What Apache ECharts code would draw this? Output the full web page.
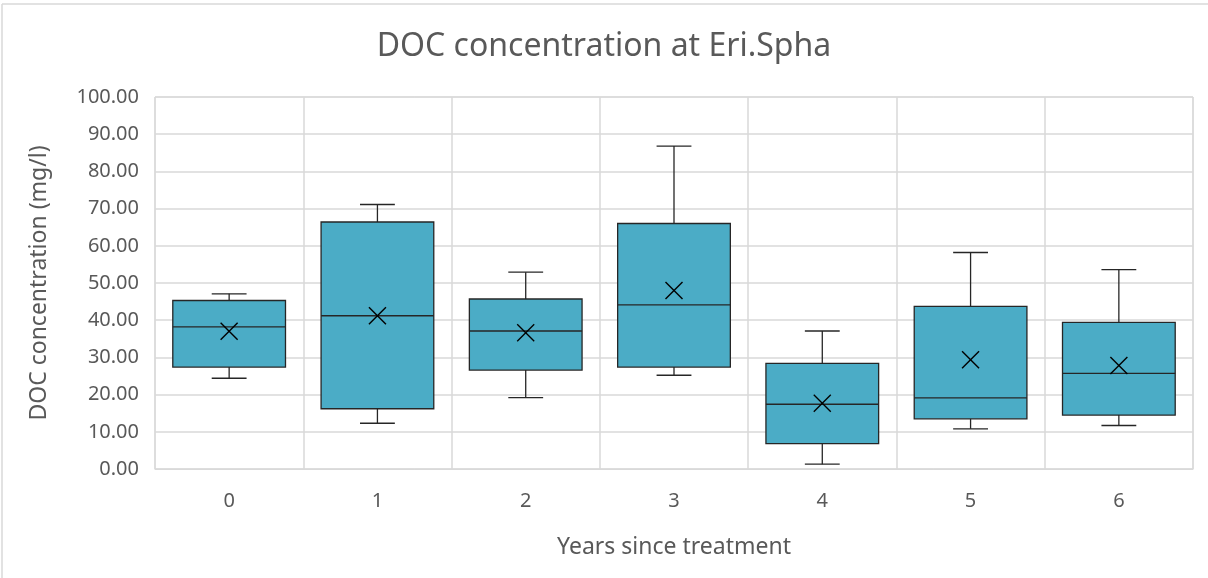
<!DOCTYPE html>
<html>
<head>
<meta charset="utf-8">
<script src="https://cdn.jsdelivr.net/npm/echarts@6/dist/echarts.min.js"></script>
<style>
  html, body { margin: 0; padding: 0; background: #fff; }
  #main { width: 1208px; height: 578px; }
</style>
</head>
<body>
<div id="main"></div>
<script>
'use strict';

// 数据
var years   = ['0', '1', '2', '3', '4', '5', '6'];
var mins    = [24.4, 12.3, 19.2, 25.2, 1.3, 10.8, 11.7];
var q1s     = [27.4, 16.2, 26.6, 27.4, 6.8, 13.5, 14.5];
var medians = [38.2, 41.2, 37.1, 44.1, 17.4, 19.1, 25.7];
var q3s     = [45.3, 66.4, 45.7, 66.0, 28.4, 43.7, 39.4];
var maxs    = [47.1, 71.1, 52.9, 86.8, 37.1, 58.2, 53.6];
var means   = [37.0, 41.2, 36.6, 48.0, 17.7, 29.4, 27.8];
var yTicks  = { min: 0, max: 100, step: 10 };

var boxData = years.map(function (y, i) {
    return [i, mins[i], q1s[i], medians[i], q3s[i], maxs[i], means[i]];
});

var chart = echarts.init(document.getElementById('main'));
var font = '"Noto Sans", "Open Sans", sans-serif';
var textColor = '#595959';
var lineColor = '#262626';

// 画一个箱线图 (box + short whisker caps + mean cross)
function renderBox(params, api) {
    var x = api.value(0);
    var band = api.size([1, 0])[0];
    var boxW = band * 0.76;
    var capW = band * 0.235;
    var pMin = api.coord([x, api.value(1)]);
    var pQ1 = api.coord([x, api.value(2)]);
    var pMed = api.coord([x, api.value(3)]);
    var pQ3 = api.coord([x, api.value(4)]);
    var pMax = api.coord([x, api.value(5)]);
    var pMean = api.coord([x, api.value(6)]);
    var cx = pQ1[0];
    var lineStyle = { stroke: lineColor, lineWidth: 1.3, fill: null };
    var m = 8.5;
    return {
        type: 'group',
        children: [
            { type: 'line', shape: { x1: cx, y1: pMax[1], x2: cx, y2: pQ3[1] }, style: lineStyle },
            { type: 'line', shape: { x1: cx, y1: pQ1[1], x2: cx, y2: pMin[1] }, style: lineStyle },
            { type: 'line', shape: { x1: cx - capW / 2, y1: pMax[1], x2: cx + capW / 2, y2: pMax[1] }, style: lineStyle },
            { type: 'line', shape: { x1: cx - capW / 2, y1: pMin[1], x2: cx + capW / 2, y2: pMin[1] }, style: lineStyle },
            {
                type: 'rect',
                shape: { x: cx - boxW / 2, y: pQ3[1], width: boxW, height: pQ1[1] - pQ3[1] },
                style: { fill: '#4bacc6', stroke: lineColor, lineWidth: 1.3 }
            },
            { type: 'line', shape: { x1: cx - boxW / 2, y1: pMed[1], x2: cx + boxW / 2, y2: pMed[1] }, style: lineStyle },
            { type: 'line', shape: { x1: pMean[0] - m, y1: pMean[1] - m, x2: pMean[0] + m, y2: pMean[1] + m }, style: { stroke: '#000', lineWidth: 1.4 } },
            { type: 'line', shape: { x1: pMean[0] - m, y1: pMean[1] + m, x2: pMean[0] + m, y2: pMean[1] - m }, style: { stroke: '#000', lineWidth: 1.4 } }
        ]
    };
}

var option = {
    animation: false,
    backgroundColor: '#fff',
    title: {
        text: 'DOC concentration at Eri.Spha',
        left: 'center',
        top: 26,
        textStyle: { color: textColor, fontSize: 32, fontWeight: 'normal', fontFamily: font }
    },
    grid: {
        left: 155, right: 15, top: 97, bottom: 109,
        show: true, borderColor: '#d9d9d9', borderWidth: 1
    },
    xAxis: {
        type: 'category',
        data: years,
        boundaryGap: true,
        name: 'Years since treatment',
        nameLocation: 'middle',
        nameGap: 67,
        nameTextStyle: { color: textColor, fontSize: 23, fontFamily: font },
        axisLine: { lineStyle: { color: '#d9d9d9' } },
        axisTick: { show: false },
        axisLabel: { color: textColor, fontSize: 20, fontFamily: font, margin: 22 },
        splitLine: { show: true, lineStyle: { color: '#d9d9d9', width: 1.5 } }
    },
    yAxis: {
        type: 'value',
        min: yTicks.min,
        max: yTicks.max,
        interval: yTicks.step,
        name: 'DOC concentration (mg/l)',
        nameLocation: 'middle',
        nameGap: 104,
        nameTextStyle: { color: textColor, fontSize: 23, fontFamily: font },
        axisLine: { show: false },
        axisTick: { show: false },
        axisLabel: {
            color: textColor, fontSize: 20, fontFamily: font, margin: 16,
            formatter: function (v) { return v.toFixed(2); }
        },
        splitLine: { lineStyle: { color: '#d9d9d9', width: 1.5 } }
    },
    graphic: [
        { type: 'line', shape: { x1: 2, y1: 4, x2: 1208, y2: 4 }, style: { stroke: '#d9d9d9', lineWidth: 1.5 } },
        { type: 'line', shape: { x1: 2, y1: 4, x2: 2, y2: 578 }, style: { stroke: '#d9d9d9', lineWidth: 1.5 } }
    ],
    series: [{
        type: 'custom',
        renderItem: renderBox,
        encode: { x: 0, y: [1, 2, 3, 4, 5, 6] },
        data: boxData
    }]
};

chart.setOption(option);
</script>
</body>
</html>
